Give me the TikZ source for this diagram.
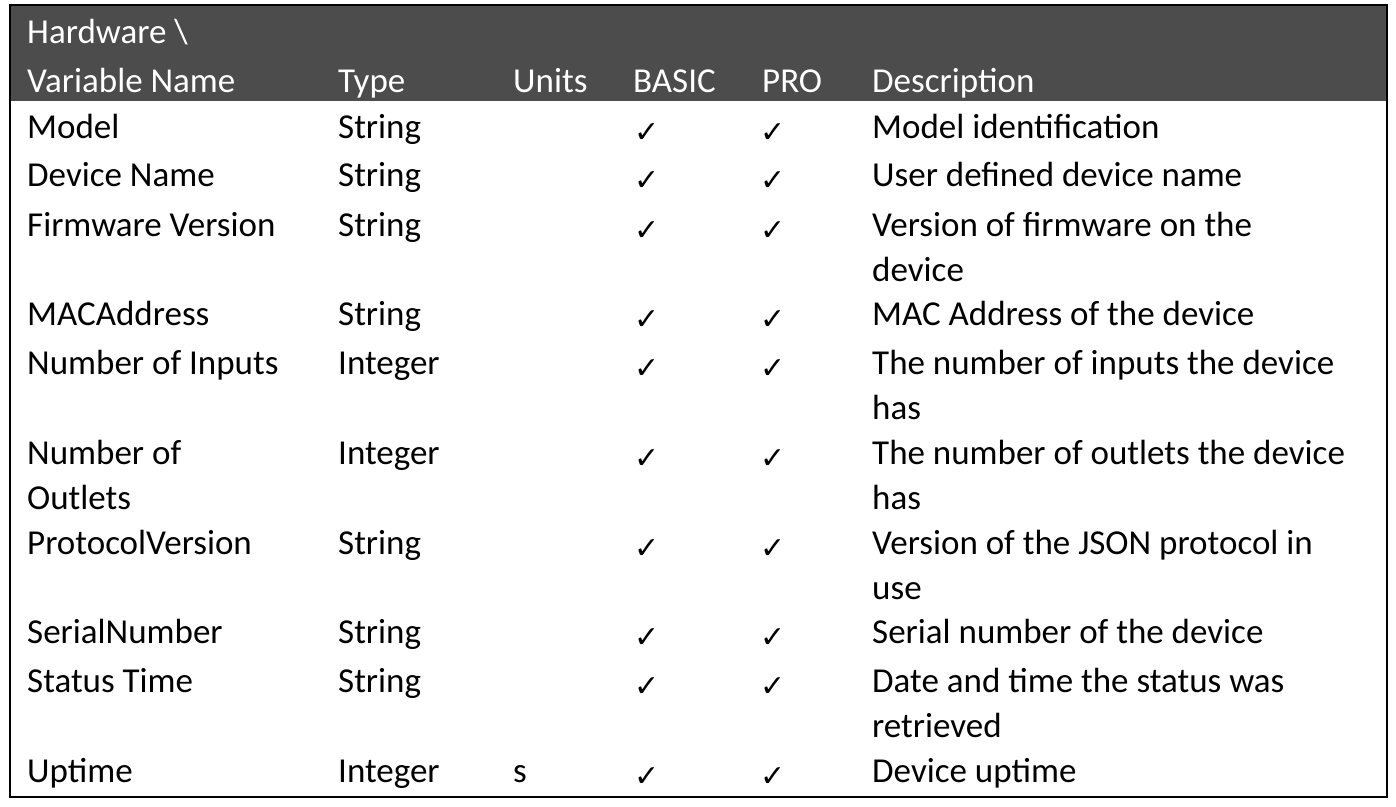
\documentclass[tikz,border=0pt]{standalone}
\usepackage{fontspec}
\setmainfont{Carlito}
\newfontfamily\sym{DejaVu Sans}
\begin{document}
\begin{tikzpicture}[x=1pt,y=-1pt,
  cell/.style={anchor=base west,inner sep=0pt,font=\fontsize{35}{40}\selectfont},
  hcell/.style={cell,text=white},
  ck/.style={anchor=base,inner sep=0pt,font=\sym\fontsize{30}{34}\selectfont}]
\useasboundingbox (0,0) rectangle (1396,806);
\fill[white] (0,0) rectangle (1396,806);
\fill[black!70] (10,5) rectangle (1387,101);
\draw[line width=2pt] (10,5) rectangle (1387,797);
\node[hcell] (h0) at (27,43) {Hardware \textbackslash};
\node[hcell] (h1) at (27,92) {Variable Name};
\node[hcell] (h2) at (338,92) {Type};
\node[hcell] (h3) at (513,92) {Units};
\node[hcell] (h4) at (633,92) {BASIC};
\node[hcell] (h5) at (762,92) {PRO};
\node[hcell] (h6) at (872,92) {Description};
\foreach \y/\n/\t/\u/\d/\e [count=\i] in {
 138/Model/String//Model identification/,
 186/Device Name/String//User defined device name/,
 236/Firmware Version/String//Version of firmware on the/device,
 325/MACAddress/String//MAC Address of the device/,
 374/Number of Inputs/Integer//The number of inputs the device/has,
 464/Number of/Integer//The number of outlets the device/has,
 554/ProtocolVersion/String//Version of the JSON protocol in/use,
 643/SerialNumber/String//Serial number of the device/,
 692/Status Time/String//Date and time the status was/retrieved,
 782/Uptime/Integer/s/Device uptime/}{
  \node[cell] (n\i) at (27,\y) {\n};
  \node[cell] (t\i) at (338,\y) {\t};
  \node[cell] (u\i) at (513,\y) {\u};
  \node[ck] (b\i) at (647,\y+4) {✓};
  \node[ck] (p\i) at (773,\y+4) {✓};
  \node[cell] (d\i) at (872,\y) {\d};
  \node[cell] (e\i) at (872,\y+45) {\e};
}
\node[cell] (o2) at (27,509) {Outlets};
\end{tikzpicture}
\end{document}
